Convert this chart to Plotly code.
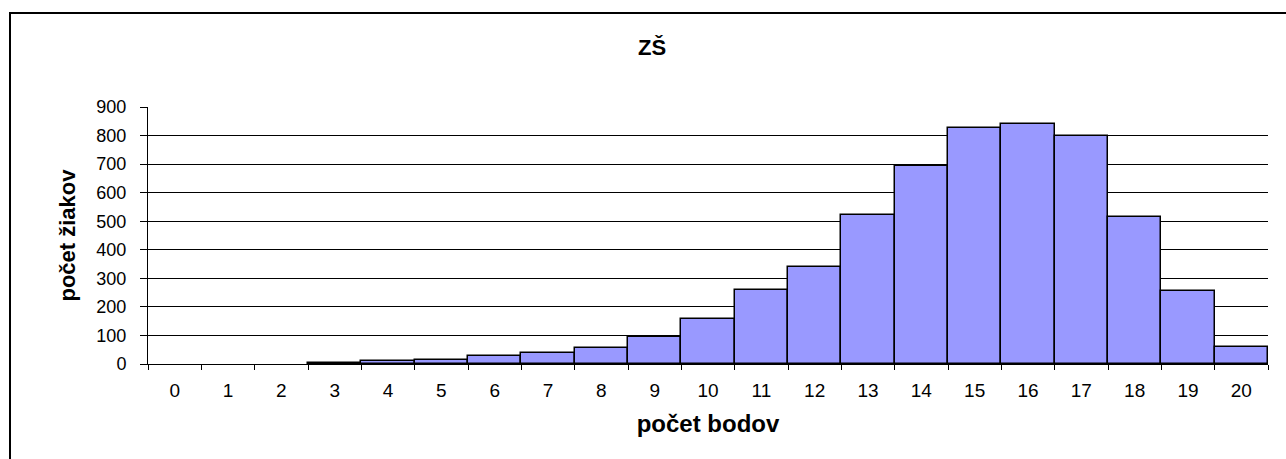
import plotly.graph_objects as go

body = [str(i) for i in range(21)]
pocet_ziakov = [0, 0, 0, 4, 9, 15, 29, 38, 56, 96, 157, 258, 341, 523, 693, 826, 841, 798, 515, 254, 61]
y_ticks = [0, 100, 200, 300, 400, 500, 600, 700, 800, 900]

FONT = "Arial, Liberation Sans, sans-serif"

outline_w = [1.5 if v > 0 else 0 for v in pocet_ziakov]

fig = go.Figure()
fig.add_trace(go.Bar(
    x=body, y=pocet_ziakov,
    marker=dict(color="#9999FF", line=dict(color="black", width=outline_w)),
    hoverinfo="x+y",
))

L, R, T, B = 148, 18, 107, 95
W, H = 1286, 459
pw, ph = W - L - R, H - T - B

fig.update_layout(
    width=W, height=H,
    margin=dict(l=L, r=R, t=T, b=B, autoexpand=False),
    paper_bgcolor="white", plot_bgcolor="white",
    bargap=0,
    showlegend=False,
    font=dict(family=FONT, size=18, color="black"),
    title=dict(text="<b>ZŠ</b>", x=652 / W, xanchor="center", y=1 - 47 / H, yanchor="middle",
               font=dict(family=FONT, size=22, color="black")),
    xaxis=dict(
        type="category", tickson="boundaries", ticks="outside", ticklen=5, tickcolor="black",
        showline=True, linecolor="black", linewidth=1, showgrid=False,
        tickfont=dict(size=19, family=FONT), ticklabelstandoff=9,
        title=dict(text="<b>počet bodov</b>", font=dict(size=24, family=FONT), standoff=15),
        range=[-0.5, 20.5], automargin=False,
    ),
    yaxis=dict(
        range=[0, 900], tickvals=y_ticks, ticks="outside", ticklen=7, tickcolor="black",
        showline=True, linecolor="black", linewidth=1,
        showgrid=True, gridcolor="black", gridwidth=1, zeroline=False,
        tickfont=dict(size=18, family=FONT), ticklabelstandoff=10,
        title=dict(text="<b>počet žiakov</b>", font=dict(size=22, family=FONT), standoff=14),
        automargin=False,
    ),
    shapes=[dict(
        type="rect", xref="paper", yref="paper",
        x0=(10 - L) / pw, x1=(W + 20 - L) / pw,
        y0=-(B + 20) / ph, y1=1 + (T - 13) / ph,
        line=dict(color="black", width=2), fillcolor="rgba(0,0,0,0)", layer="below",
    )],
)

fig.write_html("out.html", config={"displayModeBar": False},
               post_script="document.body.style.margin='0';")
